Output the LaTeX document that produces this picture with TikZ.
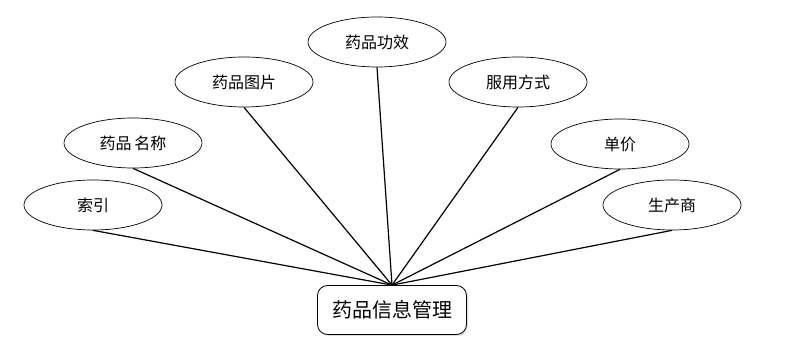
\documentclass[tikz,border=0pt]{standalone}
\usepackage{fontspec}
\newfontfamily\cjk{Noto Sans CJK SC}
\usetikzlibrary{shapes.geometric,shadows}
\tikzset{
  attr/.style={ellipse, draw, line width=0.7pt, minimum width=138pt, minimum height=50pt, inner sep=0pt, font=\cjk\fontsize{16}{16}\selectfont},
  ent/.style={rectangle, rounded corners=10pt, draw, line width=0.8pt, minimum width=149pt, minimum height=49pt, fill=white, font=\cjk\fontsize{20}{20}\selectfont, drop shadow={shadow xshift=1.5pt, shadow yshift=-1.5pt, opacity=0.25}},
  link/.style={line width=1.2pt}
}
\begin{document}
\begin{tikzpicture}[x=1pt,y=-1pt]
\useasboundingbox (0,0) rectangle (809,347);
\node[attr] (gx) at (377,42) {药品功效};
\node[attr] (tp) at (244,82) {药品图片};
\node[attr] (fy) at (518,82) {服用方式};
\node[attr] (mc) at (133,143) {药品\hspace{3pt}名称};
\node[attr] (dj) at (620,144) {单价};
\node[attr] (sy) at (93,205) {索引};
\node[attr] (sc) at (672,205) {生产商};
\node[ent] (main) at (392,310) {药品信息管理};
\foreach \n in {gx,tp,fy,mc,dj,sy,sc}
  \draw[link] (\n.south) -- (main.north);
\end{tikzpicture}
\end{document}
